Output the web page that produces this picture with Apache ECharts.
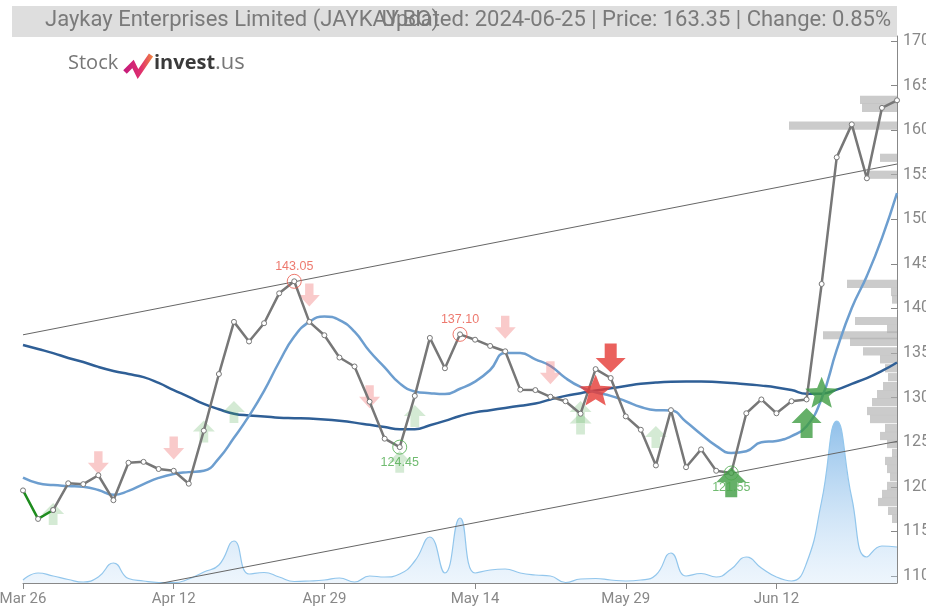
<!DOCTYPE html>
<html>
<head>
<meta charset="utf-8">
<script src="https://cdn.jsdelivr.net/npm/echarts@6/dist/echarts.min.js"></script>
<style>
html,body{margin:0;padding:0;background:#fff;}
#chart{width:926px;height:610px;}
</style>
</head>
<body>
<div id="chart"></div>
<script>
const titleText = 'Jaykay Enterprises Limited (JAYKAY.BO)';
const infoText = 'Updated: 2024-06-25 | Price: 163.35 | Change: 0.85%';

const categories = ['Mar 26','Mar 27','Mar 28','Apr 1','Apr 2','Apr 3','Apr 4','Apr 5','Apr 8','Apr 9',
  'Apr 12','Apr 15','Apr 16','Apr 18','Apr 19','Apr 22','Apr 23','Apr 24','Apr 25','Apr 26',
  'Apr 29','Apr 30','May 2','May 3','May 6','May 7','May 8','May 9','May 10','May 13',
  'May 14','May 15','May 16','May 17','May 21','May 22','May 23','May 24','May 27','May 28',
  'May 29','May 30','May 31','Jun 3','Jun 4','Jun 5','Jun 6','Jun 7','Jun 10','Jun 11',
  'Jun 12','Jun 13','Jun 14','Jun 18','Jun 19','Jun 20','Jun 21','Jun 24','Jun 25'];

const closePrice = [119.6,116.4,117.4,120.4,120.3,121.3,118.5,122.7,122.8,122.0,
  121.8,120.35,126.3,132.65,138.5,136.3,138.35,141.7,143.05,138.5,
  137.0,134.5,133.5,129.55,125.4,124.45,130.2,136.7,133.3,137.1,
  136.5,135.8,135.2,130.9,130.85,130.1,129.6,128.2,133.2,132.2,
  127.9,126.4,122.4,128.6,122.2,124.2,121.8,121.55,128.25,129.8,
  128.25,129.6,129.8,142.75,156.95,160.65,154.6,162.5,163.35];

const maShort = [121.03,120.4,120.2,120.1,120.0,119.65,119.1,119.55,120.3,121.0,
  121.45,121.65,121.8,123.2,125.5,127.95,130.75,134.0,136.85,138.5,
  139.1,138.7,137.4,135.2,133.4,131.6,130.7,130.5,130.4,131.0,
  131.8,133.1,135.0,135.0,134.3,133.55,132.2,131.2,130.6,130.2,
  129.6,128.95,128.6,128.55,127.3,125.9,124.6,123.8,124.0,125.0,
  125.15,125.7,126.8,129.9,135.35,140.05,143.65,147.9,152.95];

const maLong = [135.9,135.45,135.0,134.45,134.0,133.45,133.0,132.65,132.3,131.65,
  130.85,130.1,129.3,128.7,128.2,128.0,127.9,127.75,127.7,127.65,
  127.55,127.4,127.2,126.95,126.7,126.45,126.45,126.9,127.4,127.95,
  128.35,128.6,128.85,129.1,129.35,129.8,130.2,130.5,130.8,131.05,
  131.3,131.55,131.7,131.78,131.8,131.8,131.75,131.65,131.5,131.35,
  131.15,130.85,130.45,130.45,130.9,131.55,132.2,133.0,133.95];

const volume = [3000,10000,7000,3500,1000,6000,20000,4500,2000,500,
  300,4000,11000,18000,42000,9000,10500,6000,1500,2000,
  3000,5000,1000,7000,6000,9000,22000,46000,10000,65000,
  10000,13000,14000,10000,8000,7000,500,4000,4500,3000,
  2000,3000,8000,30000,7000,9500,6000,14000,26000,15000,
  6000,2000,20000,82000,162000,85000,26000,37000,36000];

const profileLevels = [163.4,162.5,160.5,156.9,155.0,142.75,141.85,141.0,138.6,137.7,
  137.0,136.25,135.2,134.3,133.3,132.3,131.3,130.4,129.5,128.5,
  127.6,126.6,125.7,124.8,123.8,122.9,122.0,121.1,120.1,119.2,
  118.3,117.3,116.4];
const profileVolume = [37,35,108,17,30,50,6,5,42,10,
  74,47,34,17,12,9,14,20,25,30,
  27,12,17,10,5,12,10,7,10,15,
  19,9,5];

const upperChannel = [[0,137.05],[58,156.2]];
const lowerChannel = [[0,106.2],[58,125.1]];

const weakSell = [[5,122.7],[10,124.35],[19,141.5],[23,130.1],[32,137.9],[35,132.8]];
const weakBuy = [[2,116.95],[12,126.2],[14,128.4],[25,122.8],[26,127.95],[37,128.4],[37,127.1],[42,125.6]];
const strongSell = [[39,134.45]];
const strongBuy = [[47,120.5],[52,127.15]];
const sellStar = [[38,130.85]];
const buyStar = [[53,130.6]];
const topPoints = [[18,143.05],[29,137.10]];
const bottomPoints = [[25,124.45],[47,121.55]];

const priceTicks = [110,115,120,125,130,135,140,145,150,155,160,165,170];

const UP = 'path://M10,0 L20,10 L14,10 L14,20 L6,20 L6,10 L0,10 Z';
const DOWN = 'path://M6,0 L14,0 L14,10 L20,10 L10,20 L0,10 L6,10 Z';
const STAR = 'path://M10,0 L12.6,6.5 L19.51,6.91 L14.1,11.4 L15.88,18.09 L10,14.4 L4.12,18.09 L5.9,11.4 L0.49,6.91 L7.4,6.5 Z';

const grayPart = closePrice.map((v, i) => i >= 2 ? v : '-');
const greenPart = closePrice.map((v, i) => i <= 2 ? v : '-');
const BIN = 0.92;

const chart = echarts.init(document.getElementById('chart'), null, {renderer: 'canvas'});
const FONT = 'Roboto';

const option = {
  animation: false,
  backgroundColor: '#ffffff',
  graphic: [
    {type: 'rect', left: 12, top: 6, shape: {width: 885, height: 31}, style: {fill: '#dedede'}, z: 0},
    {type: 'text', left: 45, top: 9, style: {text: titleText, font: '22px Roboto', fill: '#7a7a7a'}, z: 1},
    {type: 'text', right: 35, top: 9, style: {text: infoText, font: '22px Roboto', fill: '#7a7a7a'}, z: 1},
    {type: 'group', left: 68, top: 52, children: [
      {type: 'text', x: 0, y: 1, style: {text: 'Stock', font: '20px "Open Sans"', fill: '#777'}},
      {type: 'polyline', shape: {points: [[57,20],[65,12],[70,22],[83,3]]},
        style: {lineWidth: 5, fill: null, lineJoin: 'miter',
          stroke: new echarts.graphic.LinearGradient(0, 0, 1, 0, [{offset: 0, color: '#c2187c'}, {offset: 0.6, color: '#e0306e'}, {offset: 1, color: '#f08a3c'}])}},
      {type: 'text', x: 86, y: 0, style: {
        text: '{b|invest}{c|.us}',
        rich: {
          b: {font: 'bold 20px "Open Sans"', fill: '#3a3a3a', color: '#3a3a3a'},
          c: {font: '22px "Open Sans"', fill: '#777', color: '#777'}
        }}}
    ]}
  ],
  grid: {left: 23, right: 29, top: 36, bottom: 27, outerBoundsMode: 'none', containLabel: false},
  xAxis: [
    {type: 'category', data: categories, boundaryGap: false,
      axisLine: {lineStyle: {color: '#888', width: 1}},
      axisTick: {interval: 9, length: 6, lineStyle: {color: '#888'}},
      axisLabel: {interval: 9, color: '#888', fontFamily: FONT, fontSize: 15, margin: 9},
      splitLine: {show: false}},
    {type: 'value', inverse: true, min: 0, max: 874, show: false}
  ],
  yAxis: [
    {type: 'value', position: 'right', min: 109.215, max: 170.56,
      axisLine: {show: true, lineStyle: {color: '#888', width: 1}},
      axisTick: {show: true, inside: true, length: 6, customValues: priceTicks, lineStyle: {color: '#888'}},
      axisLabel: {customValues: priceTicks, color: '#888', fontFamily: FONT, fontSize: 16, margin: 6},
      splitLine: {show: false}},
    {type: 'value', min: 0, max: 547000, show: false}
  ],
  series: [
    {name: 'Volume', type: 'line', xAxisIndex: 0, yAxisIndex: 1, data: volume, smooth: true, symbol: 'none', z: 1,
      lineStyle: {color: '#92c6ec', width: 1.2},
      areaStyle: {color: new echarts.graphic.LinearGradient(0, 0, 0, 1, [{offset: 0, color: 'rgba(70,150,220,0.85)'}, {offset: 1, color: 'rgba(200,225,248,0.45)'}])}},
    {name: 'Profile', type: 'custom', xAxisIndex: 1, yAxisIndex: 0, z: 2,
      data: profileLevels.map((p, i) => [profileVolume[i], p]),
      encode: {x: 0, y: 1},
      renderItem: function (params, api) {
        const v = api.value(0), p = api.value(1);
        const a = api.coord([0, p + BIN / 2]);
        const b = api.coord([v, p - BIN / 2]);
        return {type: 'rect', shape: {x: b[0], y: a[1], width: a[0] - b[0], height: b[1] - a[1]}, style: {fill: 'rgba(175,175,175,0.65)'}};
      }},
    {name: 'Upper', type: 'line', data: upperChannel, symbol: 'none', z: 3, lineStyle: {color: '#666', width: 1}},
    {name: 'Lower', type: 'line', data: lowerChannel, symbol: 'none', z: 3, lineStyle: {color: '#666', width: 1}},
    {name: 'MA long', type: 'line', data: maLong, smooth: true, symbol: 'none', z: 4, lineStyle: {color: '#2f5f96', width: 2.5}},
    {name: 'MA short', type: 'line', data: maShort, smooth: true, symbol: 'none', z: 4, lineStyle: {color: '#6d9ecf', width: 2.5}},
    {name: 'Weak sell', type: 'scatter', data: weakSell, symbol: DOWN, symbolSize: [21, 23], z: 5, itemStyle: {color: 'rgba(236,90,90,0.4)'}},
    {name: 'Weak buy', type: 'scatter', data: weakBuy, symbol: UP, symbolSize: [22, 22], z: 5, itemStyle: {color: 'rgba(80,170,80,0.3)'}},
    {name: 'Price', type: 'line', data: grayPart, z: 6, symbol: 'circle', symbolSize: 5, showAllSymbol: true,
      lineStyle: {color: '#777', width: 2.5}, itemStyle: {color: '#fff', borderColor: '#777', borderWidth: 1}},
    {name: 'Price up', type: 'line', data: greenPart, z: 6, symbol: 'circle', symbolSize: 5, showAllSymbol: true,
      lineStyle: {color: '#1e8c1e', width: 2.5}, itemStyle: {color: '#fff', borderColor: '#777', borderWidth: 1}},
    {name: 'Strong sell', type: 'scatter', data: strongSell, symbol: DOWN, symbolSize: [30, 29], z: 7, itemStyle: {color: '#e53935'}},
    {name: 'Strong buy', type: 'scatter', data: strongBuy, symbol: UP, symbolSize: [30, 30], z: 7, itemStyle: {color: '#3f9c42'}},
    {name: 'Sell star', type: 'scatter', data: sellStar, symbol: STAR, symbolSize: [33, 31], z: 7, itemStyle: {color: '#e53935'}},
    {name: 'Buy star', type: 'scatter', data: buyStar, symbol: STAR, symbolSize: [33, 31], z: 7, itemStyle: {color: '#3f9c42'}},
    {name: 'Tops', type: 'scatter', data: topPoints, symbol: 'circle', symbolSize: 14, z: 8,
      itemStyle: {color: 'rgba(0,0,0,0)', borderColor: '#e8584a', borderWidth: 1},
      label: {show: true, position: 'top', distance: 1, color: '#e8584a', fontSize: 12.5, fontFamily: 'Liberation Sans',
        formatter: p => p.value[1].toFixed(2)}},
    {name: 'Bottoms', type: 'scatter', data: bottomPoints, symbol: 'circle', symbolSize: 14, z: 8,
      itemStyle: {color: 'rgba(0,0,0,0)', borderColor: '#4caa4c', borderWidth: 1},
      label: {show: true, position: 'bottom', distance: 1, color: '#4caa4c', fontSize: 12.5, fontFamily: 'Liberation Sans',
        formatter: p => p.value[1].toFixed(2)}}
  ]
};
chart.setOption(option);
</script>
</body>
</html>
